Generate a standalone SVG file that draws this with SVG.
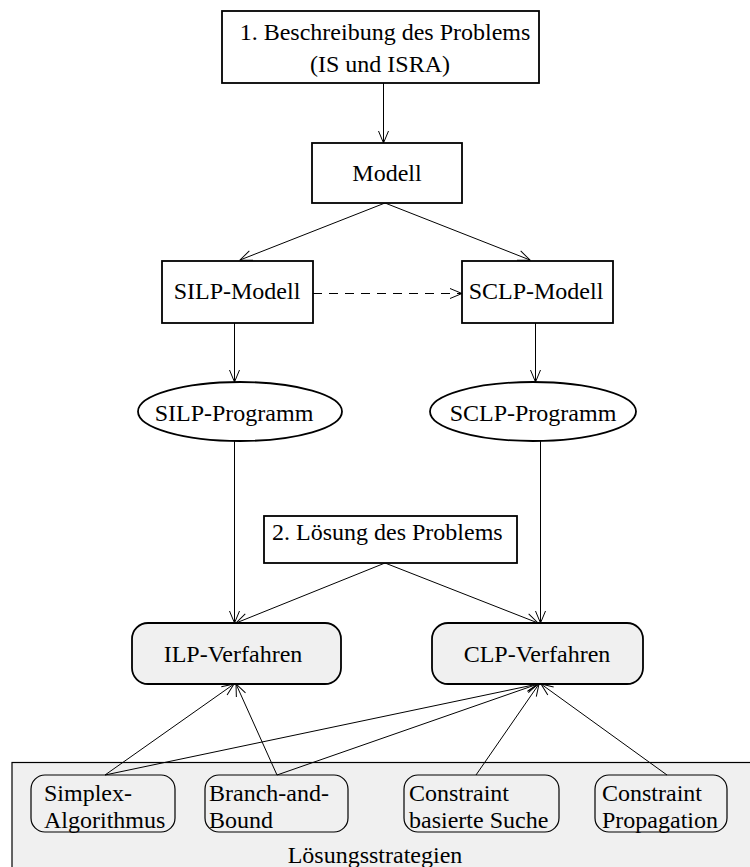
<svg xmlns="http://www.w3.org/2000/svg" width="750" height="867" viewBox="0 0 750 867">
  <style>
    .box { fill: #ffffff; stroke: #000000; stroke-width: 1.8; }
    .rbox { fill: #f0f0f0; stroke: #000000; stroke-width: 1.8; }
    .sbox { fill: none; stroke: #000000; stroke-width: 1.2; }
    .lbl { font-family: "Liberation Serif", "Times New Roman", serif; font-size: 24px; fill: #000000; }
    .mid { text-anchor: middle; }
    .edge { fill: none; stroke: #000000; stroke-width: 1; marker-end: url(#arrow); }
    .dash { stroke-dasharray: 9 7; }
  </style>
  <defs>
    <marker id="arrow" markerUnits="userSpaceOnUse" markerWidth="14" markerHeight="12" viewBox="0 0 14 12" refX="13" refY="6" orient="auto">
      <path d="M1,1 L13,6 L1,11" fill="none" stroke="#000000" stroke-width="1"/>
    </marker>
  </defs>
  <rect width="750" height="867" fill="#ffffff"/>

  <!-- Lösungsstrategien frame -->
  <g id="strategien">
    <rect x="12" y="762.5" width="745" height="120" fill="#f0f0f0" stroke="#000000" stroke-width="1.2"/>
    <text class="lbl mid" x="375" y="863">Lösungsstrategien</text>
  </g>

  <g id="connectors">
    <line class="edge" x1="383.5" y1="83" x2="383.5" y2="143"/>
    <line class="edge" x1="385" y1="203" x2="240" y2="260"/>
    <line class="edge" x1="385" y1="203" x2="530" y2="260"/>
    <line class="edge dash" x1="313" y1="293.5" x2="462" y2="293.5"/>
    <line class="edge" x1="234.5" y1="323" x2="234.5" y2="382"/>
    <line class="edge" x1="535.5" y1="323" x2="535.5" y2="382"/>
    <line class="edge" x1="234.5" y1="441" x2="234.5" y2="623"/>
    <line class="edge" x1="540.5" y1="441" x2="540.5" y2="623"/>
    <line class="edge" x1="385" y1="563" x2="236" y2="623"/>
    <line class="edge" x1="385" y1="563" x2="538" y2="623"/>
    <line class="edge" x1="105" y1="775" x2="234" y2="684"/>
    <line class="edge" x1="105" y1="775" x2="538" y2="684"/>
    <line class="edge" x1="277" y1="775" x2="236" y2="684"/>
    <line class="edge" x1="277" y1="775" x2="538" y2="684"/>
    <line class="edge" x1="476" y1="775" x2="539" y2="684"/>
    <line class="edge" x1="667" y1="775" x2="541" y2="684"/>
  </g>

  <g id="beschreibung">
    <rect class="box" x="222" y="11" width="317" height="72"/>
    <text class="lbl mid" x="385" y="40">1. Beschreibung des Problems</text>
    <text class="lbl mid" x="380" y="72">(IS und ISRA)</text>
  </g>

  <g id="modell">
    <rect class="box" x="312" y="143" width="150" height="60"/>
    <text class="lbl mid" x="387" y="181">Modell</text>
  </g>

  <g id="silp-modell">
    <rect class="box" x="162" y="261" width="151" height="62"/>
    <text class="lbl mid" x="237" y="299">SILP-Modell</text>
  </g>

  <g id="sclp-modell">
    <rect class="box" x="462" y="261" width="151" height="62"/>
    <text class="lbl mid" x="536" y="299">SCLP-Modell</text>
  </g>

  <g id="silp-programm">
    <ellipse cx="240" cy="411.5" rx="102" ry="29.5" fill="#ffffff" stroke="#000000" stroke-width="1.8"/>
    <text class="lbl mid" x="234" y="421">SILP-Programm</text>
  </g>

  <g id="sclp-programm">
    <ellipse cx="533" cy="411.5" rx="103" ry="29.5" fill="#ffffff" stroke="#000000" stroke-width="1.8"/>
    <text class="lbl mid" x="533" y="421">SCLP-Programm</text>
  </g>

  <g id="loesung">
    <rect class="box" x="264" y="516" width="253" height="47"/>
    <text class="lbl" x="272" y="540">2. Lösung des Problems</text>
  </g>

  <g id="ilp-verfahren">
    <rect class="rbox" x="132" y="623" width="209" height="61" rx="16" ry="16"/>
    <text class="lbl mid" x="233" y="662">ILP-Verfahren</text>
  </g>

  <g id="clp-verfahren">
    <rect class="rbox" x="432" y="623" width="211" height="61" rx="16" ry="16"/>
    <text class="lbl mid" x="537" y="662">CLP-Verfahren</text>
  </g>

  <g id="simplex">
    <rect class="sbox" x="31" y="775" width="144" height="57" rx="14" ry="14"/>
    <text class="lbl" x="44" y="801">Simplex-</text>
    <text class="lbl" x="44" y="828">Algorithmus</text>
  </g>

  <g id="branch-and-bound">
    <rect class="sbox" x="205" y="775" width="143" height="57" rx="14" ry="14"/>
    <text class="lbl" x="209" y="801">Branch-and-</text>
    <text class="lbl" x="209" y="828">Bound</text>
  </g>

  <g id="constraint-suche">
    <rect class="sbox" x="404" y="775" width="155" height="57" rx="14" ry="14"/>
    <text class="lbl" x="409" y="801">Constraint</text>
    <text class="lbl" x="409" y="828">basierte Suche</text>
  </g>

  <g id="constraint-propagation">
    <rect class="sbox" x="595" y="775" width="132" height="57" rx="14" ry="14"/>
    <text class="lbl" x="602" y="801">Constraint</text>
    <text class="lbl" x="602" y="828">Propagation</text>
  </g>
</svg>
